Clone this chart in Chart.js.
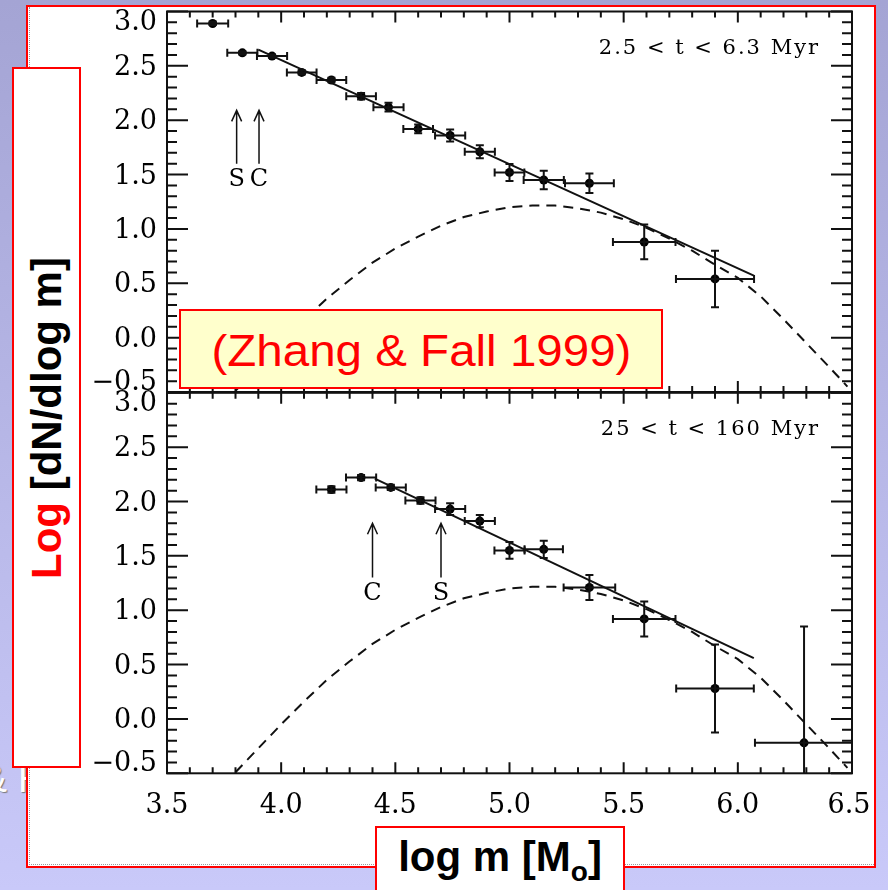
<!DOCTYPE html>
<html>
<head>
<meta charset="utf-8">
<script src="https://cdn.jsdelivr.net/npm/chart.js@4.4.0/dist/chart.umd.min.js"></script>
<style>
  html, body { margin: 0; padding: 0; }
  body {
    width: 888px; height: 890px; overflow: hidden; position: relative;
    background: linear-gradient(to bottom, #a4a4d4 0%, #c9c9f9 100%);
    font-family: "Liberation Sans", Arial, sans-serif;
  }
  .ghost { position: absolute; left: -19px; top: 757px; font-size: 39px; color: #fff;
           text-shadow: 1px 1px 1px #777; white-space: nowrap; }
  .sheet { position: absolute; left: 26px; top: 5px; width: 850px; height: 863px;
           box-sizing: border-box; border: 2px solid #f00; background: #fff; }
  .sheet .dots { position: absolute; left: 1px; top: 0; right: 0; bottom: 1px;
                 border-left: 1px dotted #999; border-bottom: 1px dotted #999; }
  canvas { position: absolute; left: 0; }
  #topChart { top: 0; }
  #bottomChart { top: 380px; }
  .box { position: absolute; box-sizing: border-box; border: 2px solid #f00; }
  #ylab { left: 12px; top: 67px; width: 69px; height: 701px; background: #fff; }
  #ylab .t { position: absolute; left: 50%; top: 50%; white-space: nowrap;
             transform: translate(-50%, -50%) rotate(-90deg);
             font-weight: bold; font-size: 42px; line-height: 42px; color: #000; }
  #zhang { left: 179px; top: 309px; width: 484px; height: 80px; background: #ffffcc;
           text-align: center; color: #f00; font-size: 44px; line-height: 76px; padding-top: 2px; }
  #zhang span { display: inline-block; transform: scaleX(1.08); }
  #xlab { left: 375px; top: 826px; width: 250px; height: 80px; background: #fff;
          text-align: center; font-weight: bold; font-size: 42px; line-height: 50px; padding-top: 4px; }
  #xlab sub { font-size: 28px; line-height: 0; vertical-align: -10px; }
</style>
</head>
<body>
<div class="ghost">&amp; H</div>
<div class="sheet"><div class="dots"></div></div>
<canvas id="topChart" width="888" height="400"></canvas>
<canvas id="bottomChart" width="888" height="510"></canvas>
<div class="box" id="zhang"><span>(Zhang &amp; Fall 1999)</span></div>
<div class="box" id="ylab"><div class="t"><span style="color:#f00">Log</span> [dN/dlog m]</div></div>
<div class="box" id="xlab">log m [M<sub>o</sub>]</div>

<script>
// axes
const xTicks = [3.5, 4.0, 4.5, 5.0, 5.5, 6.0, 6.5];
const xTickLabels = ['3.5', '4.0', '4.5', '5.0', '5.5', '6.0', '6.5'];
const yTicks = [-0.5, 0.0, 0.5, 1.0, 1.5, 2.0, 2.5, 3.0];
const yTickLabels = ['\u22120.5', '0.0', '0.5', '1.0', '1.5', '2.0', '2.5', '3.0'];

// 2.5 < t < 6.3 Myr
const youngLogM    = [3.70, 3.83, 3.96, 4.09, 4.22, 4.35, 4.47, 4.60, 4.74, 4.87, 5.00, 5.15, 5.35, 5.59, 5.90];
const youngLogN    = [2.89, 2.62, 2.59, 2.44, 2.37, 2.22, 2.12, 1.92, 1.86, 1.71, 1.52, 1.45, 1.42, 0.88, 0.54];
const youngLogMErr = [0.068, 0.066, 0.066, 0.065, 0.065, 0.065, 0.066, 0.065, 0.066, 0.066, 0.065, 0.088, 0.107, 0.137, 0.171];
const youngLogNErr = [0.015, 0.015, 0.015, 0.02, 0.02, 0.03, 0.04, 0.04, 0.055, 0.06, 0.078, 0.085, 0.09, 0.16, 0.26];
const youngFitLogM = [3.90, 6.07];
const youngFitLogN = [2.65, 0.57];

// 25 < t < 160 Myr
const oldLogM    = [4.22, 4.35, 4.48, 4.61, 4.74, 4.87, 5.00, 5.15, 5.35, 5.59, 5.90, 6.29];
const oldLogN    = [2.11, 2.22, 2.13, 2.01, 1.93, 1.82, 1.55, 1.56, 1.21, 0.92, 0.28, -0.22];
const oldLogMErr = [0.066, 0.066, 0.066, 0.066, 0.066, 0.066, 0.066, 0.084, 0.113, 0.137, 0.17, 0.215];
const oldLogNErr = [0.03, 0.025, 0.025, 0.03, 0.054, 0.057, 0.077, 0.08, 0.115, 0.161, 0.405, 1.07];
const oldFitLogM = [4.41, 6.07];
const oldFitLogN = [2.21, 0.56];

// dashed model curve (same in both panels)
const modelLogM = [3.80, 3.90, 4.00, 4.10, 4.20, 4.30, 4.40, 4.50, 4.60, 4.70, 4.80, 4.90, 5.00, 5.10,
                   5.20, 5.30, 5.40, 5.50, 5.60, 5.70, 5.80, 5.90, 6.00, 6.10, 6.20, 6.30, 6.40, 6.48];
const modelLogN = [-0.49, -0.27, -0.05, 0.16, 0.36, 0.53, 0.69, 0.82, 0.93, 1.03, 1.11, 1.16, 1.20, 1.215,
                   1.215, 1.19, 1.15, 1.09, 1.01, 0.91, 0.80, 0.67, 0.55, 0.38, 0.17, -0.05, -0.27, -0.45];

const ink = '#111';
const serif = '"DejaVu Serif", "Liberation Serif", serif';

function pts(xs, ys) {
    return xs.map((x, i) => ({ x: x, y: ys[i] }));
}

// frame, inward ticks, tick labels, error bars, arrows and the age label
const panelPlugin = {
    id: 'panel',
    afterDatasetsDraw(chart, args, opts) {
        const ctx = chart.ctx, a = chart.chartArea;
        const sx = chart.scales.x, sy = chart.scales.y;
        ctx.save();
        ctx.beginPath();
        ctx.rect(a.left, a.top, a.right - a.left + 1, a.bottom - a.top);
        ctx.clip();
        ctx.strokeStyle = ink;
        ctx.lineWidth = 2;
        opts.errX.forEach((xv, i) => {
            const yv = opts.errY[i];
            const px = sx.getPixelForValue(xv), py = sy.getPixelForValue(yv);
            const x0 = sx.getPixelForValue(xv - opts.dx[i]), x1 = sx.getPixelForValue(xv + opts.dx[i]);
            const y0 = sy.getPixelForValue(yv - opts.dy[i]), y1 = sy.getPixelForValue(yv + opts.dy[i]);
            ctx.beginPath();
            ctx.moveTo(x0, py); ctx.lineTo(x1, py);
            ctx.moveTo(x0, py - 4); ctx.lineTo(x0, py + 4);
            ctx.moveTo(x1, py - 4); ctx.lineTo(x1, py + 4);
            ctx.moveTo(px, y0); ctx.lineTo(px, y1);
            ctx.moveTo(px - 4, y0); ctx.lineTo(px + 4, y0);
            ctx.moveTo(px - 4, y1); ctx.lineTo(px + 4, y1);
            ctx.stroke();
        });
        ctx.restore();
    },
    afterDraw(chart, args, opts) {
        const ctx = chart.ctx, a = chart.chartArea;
        const sx = chart.scales.x, sy = chart.scales.y;
        ctx.save();
        ctx.strokeStyle = ink;
        ctx.fillStyle = '#000';
        ctx.lineWidth = 2;
        ctx.strokeRect(a.left, a.top, a.right - a.left, a.bottom - a.top);

        ctx.beginPath();
        for (let k = 0; k <= 30; k++) {
            const p = sx.getPixelForValue(3.5 + k * 0.1);
            const len = k % 5 === 0 ? 11 : 6;
            ctx.moveTo(p, a.top); ctx.lineTo(p, a.top + len);
            ctx.moveTo(p, a.bottom); ctx.lineTo(p, a.bottom - len);
        }
        for (let k = 0; k <= 35; k++) {
            const p = sy.getPixelForValue(-0.5 + k * 0.1);
            const len = k % 5 === 0 ? 21 : 10;
            ctx.moveTo(a.left, p); ctx.lineTo(a.left + len, p);
            ctx.moveTo(a.right, p); ctx.lineTo(a.right - len, p);
        }
        ctx.stroke();

        ctx.font = '27px ' + serif;
        ctx.textAlign = 'right';
        ctx.textBaseline = 'middle';
        yTicks.forEach((v, i) => {
            let p = sy.getPixelForValue(v) + 2;
            if (i === 0) p -= 11;
            if (i === yTicks.length - 1) p += 9;
            ctx.fillText(yTickLabels[i], a.left - 10, p);
        });
        if (opts.xLabels) {
            ctx.textAlign = 'center';
            xTicks.forEach((v, i) => {
                let p = sx.getPixelForValue(v);
                if (i === xTicks.length - 1) p -= 3;
                ctx.fillText(xTickLabels[i], p, a.bottom + 33);
            });
        }

        // arrows with letters
        ctx.lineWidth = 1.5;
        ctx.font = '24px ' + serif;
        ctx.textAlign = 'center';
        opts.arrows.forEach(ar => {
            const px = sx.getPixelForValue(ar.x);
            const tip = sy.getPixelForValue(ar.top), tail = sy.getPixelForValue(ar.bottom);
            ctx.beginPath();
            ctx.moveTo(px, tail); ctx.lineTo(px, tip);
            ctx.moveTo(px - 5, tip + 11); ctx.lineTo(px, tip); ctx.lineTo(px + 5, tip + 11);
            ctx.stroke();
            ctx.fillText(ar.text, px, sy.getPixelForValue(ar.textY));
        });

        ctx.font = '21px ' + serif;
        ctx.letterSpacing = '2px';
        ctx.textAlign = 'right';
        ctx.fillText(opts.label, sx.getPixelForValue(opts.labelX), sy.getPixelForValue(opts.labelY));
        ctx.restore();
    }
};

function makePanel(id, padding, d) {
    return new Chart(document.getElementById(id), {
        type: 'scatter',
        data: {
            datasets: [
                {
                    data: pts(modelLogM, modelLogN),
                    showLine: true, borderColor: ink, borderWidth: 2, borderDash: [10, 7],
                    pointRadius: 0, fill: false
                },
                {
                    data: pts(d.fitX, d.fitY),
                    showLine: true, borderColor: ink, borderWidth: 2, pointRadius: 0, fill: false
                },
                {
                    data: pts(d.x, d.y),
                    pointRadius: 4.5, pointBackgroundColor: '#000', pointBorderWidth: 0
                }
            ]
        },
        options: {
            responsive: false,
            animation: false,
            devicePixelRatio: 1,
            layout: { padding: padding },
            plugins: {
                legend: { display: false },
                tooltip: { enabled: false },
                panel: {
                    errX: d.x, errY: d.y, dx: d.dx, dy: d.dy,
                    xLabels: d.xLabels, arrows: d.arrows,
                    label: d.label, labelX: 6.36, labelY: 2.66
                }
            },
            scales: {
                x: { type: 'linear', min: 3.5, max: 6.5, display: false },
                y: { type: 'linear', min: -0.5, max: 3.0, display: false }
            }
        },
        plugins: [panelPlugin]
    });
}

makePanel('topChart', { left: 167, right: 36, top: 11.5, bottom: 8 }, {
    x: youngLogM, y: youngLogN, dx: youngLogMErr, dy: youngLogNErr,
    fitX: youngFitLogM, fitY: youngFitLogN,
    xLabels: false,
    label: '2.5 < t < 6.3 Myr',
    arrows: [
        { x: 3.805, top: 2.09, bottom: 1.60, text: 'S', textY: 1.45 },
        { x: 3.903, top: 2.09, bottom: 1.60, text: 'C', textY: 1.45 }
    ]
});

makePanel('bottomChart', { left: 167, right: 36, top: 12.8, bottom: 116.7 }, {
    x: oldLogM, y: oldLogN, dx: oldLogMErr, dy: oldLogNErr,
    fitX: oldFitLogM, fitY: oldFitLogN,
    xLabels: true,
    label: '25 < t < 160 Myr',
    arrows: [
        { x: 4.40, top: 1.80, bottom: 1.30, text: 'C', textY: 1.155 },
        { x: 4.70, top: 1.80, bottom: 1.30, text: 'S', textY: 1.155 }
    ]
});
</script>
</body>
</html>
